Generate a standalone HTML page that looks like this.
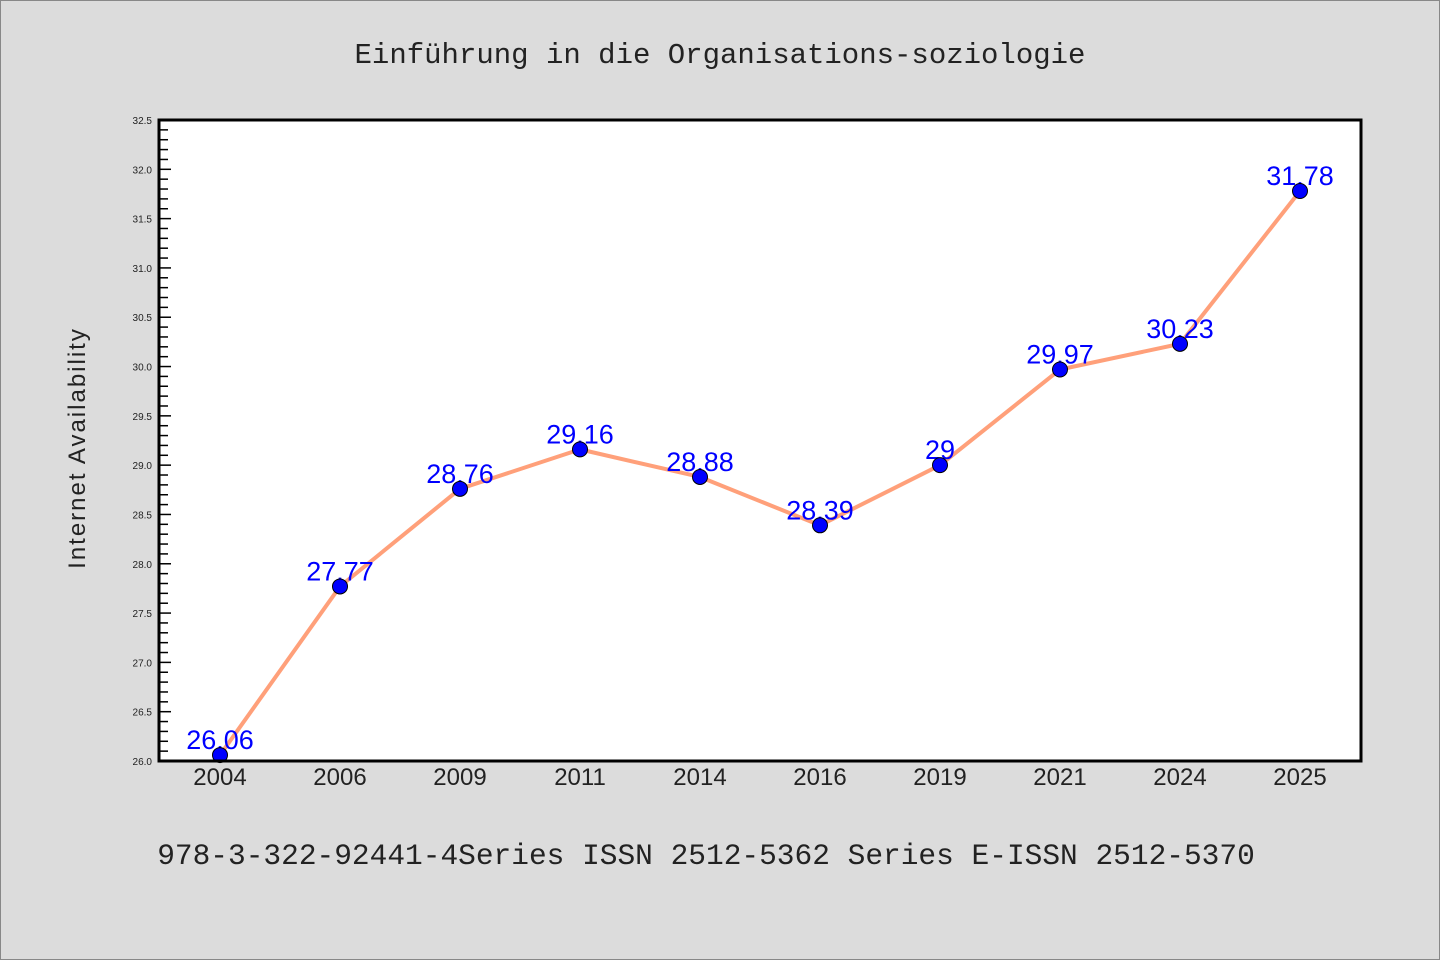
<!DOCTYPE html>
<html><head><meta charset="utf-8"><style>
html,body{margin:0;padding:0;background:#dcdcdc;}
svg{display:block;}
</style></head><body>
<svg id="chart" width="1440" height="960" xmlns="http://www.w3.org/2000/svg">
<rect x="0.5" y="0.5" width="1439" height="959" fill="#dcdcdc" stroke="#888"/>
<text x="720" y="63" text-anchor="middle" font-family="Liberation Mono, monospace" font-size="29" fill="#222">Einführung in die Organisations-soziologie</text>
<rect x="159" y="120" width="1202" height="641" fill="#fff"/>
<g id="yaxis"></g>
<g id="xaxis"></g>
<g id="series"></g>
<rect x="159" y="120" width="1202" height="641" fill="none" stroke="#000" stroke-width="3"/>
<text transform="translate(85,448) rotate(-90)" text-anchor="middle" font-family="Liberation Sans, sans-serif" font-size="24" letter-spacing="2" fill="#222">Internet Availability</text>
<text x="706" y="864" text-anchor="middle" font-family="Liberation Mono, monospace" font-size="29.5" fill="#222">978-3-322-92441-4Series ISSN 2512-5362 Series E-ISSN 2512-5370</text>
</svg>
<script>
const categories = ["2004","2006","2009","2011","2014","2016","2019","2021","2024","2025"];
const values = [26.06,27.77,28.76,29.16,28.88,28.39,29,29.97,30.23,31.78];
const valueLabels = ["26.06","27.77","28.76","29.16","28.88","28.39","29","29.97","30.23","31.78"];
const yTicks = ["26.0","26.5","27.0","27.5","28.0","28.5","29.0","29.5","30.0","30.5","31.0","31.5","32.0","32.5"];

const NS="http://www.w3.org/2000/svg";
const L=159,R=1361,T=120,B=761,yMin=26,yMax=32.5;
const xScale=i=>220+i*(1080/(categories.length-1));
const yScale=v=>B-(v-yMin)/(yMax-yMin)*(B-T);
function mk(tag,attrs,parent){const e=document.createElementNS(NS,tag);for(const k in attrs)e.setAttribute(k,attrs[k]);parent.appendChild(e);return e;}
const ya=document.getElementById('yaxis'),xa=document.getElementById('xaxis'),sg=document.getElementById('series');
for(let k=0;k<=65;k++){
  const v=yMin+k*0.1;const y=yScale(v);const major=k%5===0;
  const t=mk('line',{x1:L,x2:L+(major?12:9),y1:y,y2:y,stroke:'#000','stroke-width':1.5},ya);
  
  
}
yTicks.forEach(s=>{
  const y=yScale(parseFloat(s));
  const t=mk('text',{x:152,y:y+4,'text-anchor':'end','font-family':'Liberation Sans, sans-serif','font-size':10,fill:'#222'},ya);
  t.textContent=s;
  
  
});
categories.forEach((c,i)=>{
  const t=mk('text',{x:xScale(i),y:785,'text-anchor':'middle','font-family':'Liberation Sans, sans-serif','font-size':24,fill:'#222'},xa);
  t.textContent=c;
  
  
});
const pts=values.map((v,i)=>xScale(i)+','+yScale(v)).join(' ');
const pl=mk('polyline',{points:pts,fill:'none',stroke:'#ffa07a','stroke-width':4,'stroke-linejoin':'round'},sg);


values.forEach((v,i)=>{
  const t=mk('text',{x:xScale(i),y:yScale(v)-6,'text-anchor':'middle','font-family':'Liberation Sans, sans-serif','font-size':27,fill:'#0000ff'},sg);
  t.textContent=valueLabels[i];
  
  
});
values.forEach((v,i)=>{
  const c=mk('circle',{cx:xScale(i),cy:yScale(v),r:7.5,fill:'#0000ff',stroke:'#000','stroke-width':1},sg);
  
  
});
</script>
</body></html>
